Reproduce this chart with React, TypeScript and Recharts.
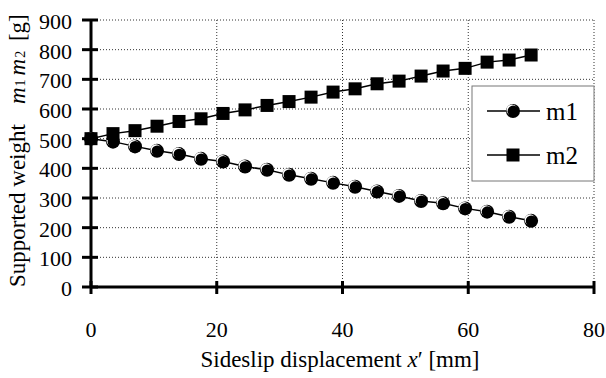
import React from 'react';
import { LineChart, Line, XAxis, YAxis, CartesianGrid, Customized } from 'recharts';

// Sideslip displacement x' [mm]
const displacement = [0, 3.5, 7, 10.5, 14, 17.5, 21, 24.5, 28, 31.5, 35, 38.5, 42, 45.5, 49, 52.5, 56, 59.5, 63, 66.5, 70];
// Supported weight m1 [g]
const m1Values = [500, 490, 474, 459, 448, 432, 423, 406, 395, 378, 365, 351, 338, 322, 307, 290, 282, 265, 254, 237, 223];
// Supported weight m2 [g]
const m2Values = [500, 517, 527, 542, 558, 567, 585, 597, 612, 625, 640, 657, 668, 685, 694, 711, 728, 737, 758, 765, 782];

const xTicks = [0, 20, 40, 60, 80];
const yTicks = [0, 100, 200, 300, 400, 500, 600, 700, 800, 900];
const seriesNames = ['m1', 'm2'];

const data = displacement.map((x, i) => ({ x, m1: m1Values[i], m2: m2Values[i] }));

const FONT = 'Liberation Serif, DejaVu Serif, serif';
const serif = { fontFamily: FONT };

const CircleMarker = ({ cx, cy }: { cx?: number; cy?: number }) => {
  if (cx == null || cy == null) return null;
  return (
    <g>
      <circle cx={cx} cy={cy} r={7} fill="#000" />
      <circle cx={cx - 1.1} cy={cy - 1.1} r={5.4} fill="#fff" />
      <circle cx={cx + 0.2} cy={cy + 0.2} r={5.6} fill="#000" />
    </g>
  );
};

const SquareMarker = ({ cx, cy }: { cx?: number; cy?: number }) => {
  if (cx == null || cy == null) return null;
  return <rect x={cx - 6.5} y={cy - 6.5} width={13} height={13} fill="#000" />;
};

const XTick = ({ x, y, payload }: any) => (
  <g>
    <line x1={x} x2={x} y1={y - 6} y2={y + 7} stroke="#000" strokeWidth={3} />
    <text x={x} y={y + 50} textAnchor="middle" fontSize={22} style={serif} fill="#000">
      {payload.value}
    </text>
  </g>
);

const YTick = ({ x, y, payload }: any) => (
  <g>
    <line x1={x - 9} x2={x + 7} y1={y} y2={y} stroke="#000" strokeWidth={3} />
    <text x={x - 19} y={y + 9} textAnchor="end" fontSize={22} style={serif} fill="#000">
      {payload.value}
    </text>
  </g>
);

const Titles = () => (
  <g fill="#000">
    <text x={340} y={367} textAnchor="middle" fontSize={23} style={serif}>
      Sideslip displacement <tspan fontStyle="italic">x</tspan>′ [mm]
    </text>
    <text transform="translate(25,287) rotate(-90)" fontSize={23} style={serif}>
      Supported weight
      <tspan dx={20} fontStyle="italic">m</tspan>
      <tspan fontSize={14} dx={1}>1</tspan>
      <tspan dx={4} fontStyle="italic">m</tspan>
      <tspan fontSize={14} dx={1}>2</tspan>
      <tspan dx={4}> [g]</tspan>
    </text>
  </g>
);

const LegendBox = () => {
  const left = 472;
  const top = 86;
  const w = 122;
  const h = 95;
  const rows = [top + 25, top + 69];
  return (
    <g>
      <rect x={left} y={top} width={w} height={h} fill="#fff" stroke="#777" strokeWidth={1} />
      {seriesNames.map((name, i) => (
        <g key={name}>
          <line x1={left + 15} x2={left + 68} y1={rows[i]} y2={rows[i]} stroke="#000" strokeWidth={1.5} />
          {i === 0 ? <CircleMarker cx={left + 41} cy={rows[i]} /> : <SquareMarker cx={left + 41} cy={rows[i]} />}
          <text x={left + 74} y={rows[i] + 9} fontSize={25} fill="#000" style={serif}>
            {name}
          </text>
        </g>
      ))}
    </g>
  );
};

export default function App() {
  return (
    <div style={{ position: 'absolute', left: 0, top: 0, width: 606, height: 378, background: '#fff', fontFamily: FONT }}>
      <LineChart width={606} height={378} data={data} margin={{ top: 20, right: 12, bottom: 0, left: 0 }}>
        <CartesianGrid stroke="#333" strokeDasharray="1 2" strokeWidth={1} horizontalValues={yTicks} verticalValues={xTicks} />
        <XAxis
          dataKey="x"
          type="number"
          domain={[0, 80]}
          ticks={xTicks}
          height={91}
          tickSize={0}
          tickMargin={0}
          tickLine={false}
          axisLine={{ stroke: '#000', strokeWidth: 3 }}
          tick={<XTick />}
          interval={0}
        />
        <YAxis
          type="number"
          domain={[0, 900]}
          ticks={yTicks}
          width={91}
          tickSize={0}
          tickMargin={0}
          tickLine={false}
          axisLine={{ stroke: '#000', strokeWidth: 3 }}
          tick={<YTick />}
          interval={0}
        />
        <Line dataKey="m1" stroke="#000" strokeWidth={1.5} dot={<CircleMarker />} activeDot={false} isAnimationActive={false} />
        <Line dataKey="m2" stroke="#000" strokeWidth={1.5} dot={<SquareMarker />} activeDot={false} isAnimationActive={false} />
        <Customized component={LegendBox} />
        <Customized component={Titles} />
      </LineChart>
    </div>
  );
}
